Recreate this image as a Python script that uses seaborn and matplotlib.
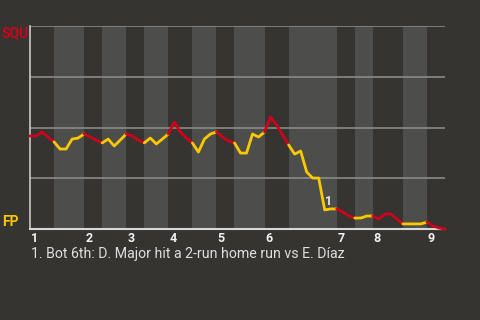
import numpy as np
import pandas as pd
import matplotlib
matplotlib.use("Agg")
import matplotlib.pyplot as plt
import matplotlib.transforms as mtransforms
import seaborn as sns

# ---- data ----
away_team = "SQU"
home_team = "FP"
# plays per half-inning (top 1 .. top 9)
half_inning_plays = [4, 5, 3, 4, 3, 4, 4, 4, 3, 5, 4, 8, 3, 3, 5, 4, 3]
innings = [1, 2, 3, 4, 5, 6, 7, 8, 9]
# win probability for the away team after each play
wp_away = [0.458, 0.458, 0.478, 0.453, 0.429, 0.394, 0.394, 0.443, 0.448, 0.468,
           0.453, 0.438, 0.424, 0.443, 0.409, 0.438, 0.468, 0.458, 0.438, 0.424,
           0.448, 0.419, 0.443, 0.468, 0.527, 0.478, 0.448, 0.424, 0.379, 0.443,
           0.468, 0.478, 0.453, 0.433, 0.424, 0.374, 0.374, 0.468, 0.453, 0.478,
           0.552, 0.512, 0.463, 0.414, 0.369, 0.384, 0.281, 0.251, 0.251, 0.094,
           0.099, 0.099, 0.084, 0.064, 0.054, 0.054, 0.064, 0.064, 0.049, 0.074,
           0.074, 0.049, 0.025, 0.025, 0.025, 0.025, 0.034, 0.015, 0.005, 0.0]
annotation_play = 49
annotation_label = "1"
caption = "1. Bot 6th: D. Major hit a 2-run home run vs E. Díaz"

# ---- style ----
BG = "#353430"
BAND = "#4d4d4b"
GRID = "#8a8a88"
RED = "#d0021b"
YELLOW = "#fcc800"

sns.set_theme(style="dark")
plt.rcParams["font.family"] = ["Roboto", "DejaVu Sans"]

fig = plt.figure(figsize=(4.8, 3.2), dpi=100, facecolor=BG)
ax = fig.add_axes([30 / 480, 1 - 229 / 320, 415 / 480, 203 / 320])
ax.set_facecolor(BG)

bounds = np.concatenate([[0], np.cumsum(half_inning_plays)])
n_plays = bounds[-1]

# bands for bottom halves
for k in range(len(half_inning_plays)):
    if k % 2 == 1:
        ax.axvspan(bounds[k], bounds[k + 1], color=BAND, lw=0, zorder=0)

for yv in [0.25, 0.5, 0.75, 1.0]:
    ax.axhline(yv, color=GRID, lw=1.2, zorder=1)

# line segments per half inning
rows = []
for k in range(len(half_inning_plays)):
    for p in range(bounds[k], bounds[k + 1] + 1):
        rows.append({"play": p, "wp": wp_away[p], "half": k})
df = pd.DataFrame(rows)
palette = {k: (RED if k % 2 == 0 else YELLOW) for k in range(len(half_inning_plays))}
sns.lineplot(data=df, x="play", y="wp", hue="half", palette=palette, legend=False,
             sort=False, lw=2, ax=ax, zorder=3, clip_on=False)

ax.set_xlim(0, n_plays)
ax.set_ylim(0, 1)
ax.set_xlabel("")
ax.set_ylabel("")
ax.set_yticks([])
inning_starts = bounds[::2]
ax.set_xticks(inning_starts)
ax.set_xticklabels([str(i) for i in innings], fontsize=9, fontweight="bold",
                   color="#f2f2f2", ha="left")
ax.tick_params(axis="x", length=0, pad=2)
offset = mtransforms.ScaledTranslation(1 / 100, 0, fig.dpi_scale_trans)
for lbl in ax.get_xticklabels():
    lbl.set_transform(lbl.get_transform() + offset)

for s in ["top", "right"]:
    ax.spines[s].set_visible(False)
ax.spines["left"].set_color("#c8c8c8")
ax.spines["left"].set_linewidth(1.2)
ax.spines["bottom"].set_color("#d8d8d8")
ax.spines["bottom"].set_linewidth(1.5)
ax.grid(False)

ax.annotate(annotation_label, xy=(annotation_play, wp_away[annotation_play]),
            xytext=(2.5, 6), textcoords="offset points", ha="center", va="center",
            fontsize=9, fontweight="bold", color="#e6e6e6", zorder=5)

fig.text(2 / 480, 1 - 33 / 320, away_team, color=RED, fontsize=10, fontweight="bold",
         ha="left", va="center")
fig.text(2 / 480, 1 - 221.5 / 320, home_team, color=YELLOW, fontsize=10, fontweight="bold",
         ha="left", va="center")
fig.text(31 / 480, 1 - 254 / 320, caption, color="#dedede", fontsize=10.2,
         ha="left", va="center")

fig.savefig("out.png", dpi=100, facecolor=BG)
